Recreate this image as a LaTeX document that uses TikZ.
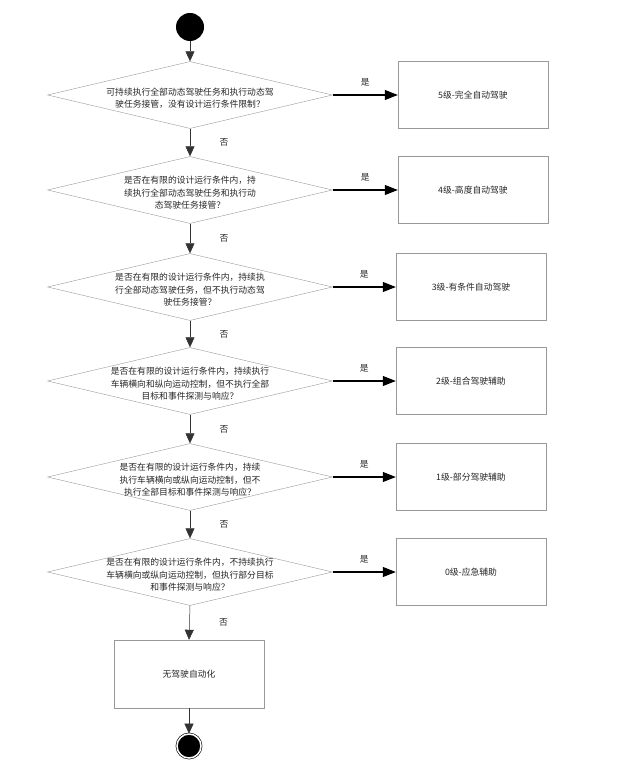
\documentclass[tikz,border=0pt]{standalone}
\usepackage{fontspec}
\newfontfamily\cjk{Noto Sans CJK SC}
\usetikzlibrary{shapes.geometric,arrows.meta,positioning}

\tikzset{
    decision/.style={diamond, draw=gray!80, minimum width=285pt, minimum height=67pt, inner sep=0pt},
    qtext/.style={align=center, font=\cjk\fontsize{8.8}{12.5}\selectfont, text=black!85},
    levelbox/.style={rectangle, draw=gray!80, minimum width=150pt, minimum height=67pt, font=\cjk\fontsize{8.8}{11}\selectfont, text=black!85},
    down/.style={draw=black!80, line width=0.5pt, -{Triangle[length=10pt,width=9pt]}},
    yes/.style={draw=black, line width=1.1pt, -{Triangle[length=13pt,width=10pt]}},
    lab/.style={font=\cjk\fontsize{8.8}{11}\selectfont, text=black!85}
}

\begin{document}
\begin{tikzpicture}[x=1pt, y=-1pt]
    \useasboundingbox (0,0) rectangle (625,767);

    % Start
    \node[circle, fill=black, minimum size=28pt, inner sep=0pt] (start) at (190,27) {};

    % Level 5
    \node[decision] (d5) at (190,95) {};
    \node[qtext] at (190,98) {可持续执行全部动态驾驶任务和执行动态驾\\驶任务接管，没有设计运行条件限制？};
    \node[levelbox] (l5) at (473,95) {5级-完全自动驾驶};

    % Level 4
    \node[decision] (d4) at (190,190) {};
    \node[qtext] at (190,193) {是否在有限的设计运行条件内，持\\续执行全部动态驾驶任务和执行动\\态驾驶任务接管？};
    \node[levelbox] (l4) at (473,190) {4级-高度自动驾驶};

    % Level 3
    \node[decision] (d3) at (190,287) {};
    \node[qtext] at (190,290) {是否在有限的设计运行条件内，持续执\\行全部动态驾驶任务，但不执行动态驾\\驶任务接管？};
    \node[levelbox] (l3) at (471,287) {3级-有条件自动驾驶};

    % Level 2
    \node[decision] (d2) at (190,381) {};
    \node[qtext] at (190,384) {是否在有限的设计运行条件内，持续执行\\车辆横向和纵向运动控制，但不执行全部\\目标和事件探测与响应？};
    \node[levelbox] (l2) at (471,381) {2级-组合驾驶辅助};

    % Level 1
    \node[decision] (d1) at (190,477) {};
    \node[qtext] at (190,480) {是否在有限的设计运行条件内，持续\\执行车辆横向或纵向运动控制，但不\\执行全部目标和事件探测与响应？};
    \node[levelbox] (l1) at (471,477) {1级-部分驾驶辅助};

    % Level 0
    \node[decision] (d0) at (190,572) {};
    \node[qtext] at (190,575) {是否在有限的设计运行条件内，不持续执行\\车辆横向或纵向运动控制，但执行部分目标\\和事件探测与响应？};
    \node[levelbox] (l0) at (471,572) {0级-应急辅助};

    % No automation and end
    \node[levelbox, minimum height=68pt] (none) at (189,674) {无驾驶自动化};
    \node[circle, fill=black, draw=black, double=white, double distance=1.5pt, line width=0.6pt, minimum size=24pt, inner sep=0pt] (stop) at (189,746) {};

    % Yes branches
    \draw[yes] (d5.east) -- node[lab, above=5pt] {是} (l5.west);
    \draw[yes] (d4.east) -- node[lab, above=5pt] {是} (l4.west);
    \draw[yes] (d3.east) -- node[lab, above=5pt] {是} (l3.west);
    \draw[yes] (d2.east) -- node[lab, above=5pt] {是} (l2.west);
    \draw[yes] (d1.east) -- node[lab, above=5pt] {是} (l1.west);
    \draw[yes] (d0.east) -- node[lab, above=5pt] {是} (l0.west);

    % No branches
    \draw[down] (start) -- (d5.north);
    \draw[down] (d5.south) -- node[lab, right=26pt] {否} (d4.north);
    \draw[down] (d4.south) -- node[lab, right=26pt] {否} (d3.north);
    \draw[down] (d3.south) -- node[lab, right=26pt] {否} (d2.north);
    \draw[down] (d2.south) -- node[lab, right=26pt] {否} (d1.north);
    \draw[down] (d1.south) -- node[lab, right=26pt] {否} (d0.north);
    \draw[down] (d0.south) -- node[lab, right=26pt] {否} (none.north);
    \draw[down] (none.south) -- (stop.north);
\end{tikzpicture}
\end{document}
